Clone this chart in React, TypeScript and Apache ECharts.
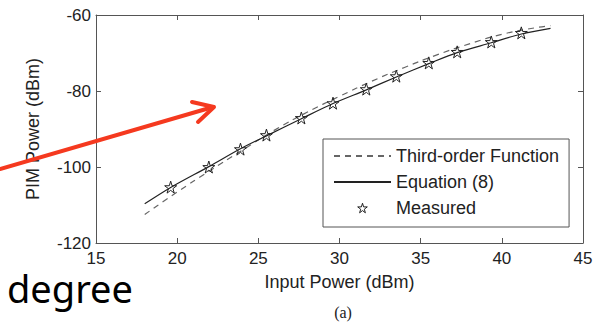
import React, { useEffect, useRef } from "react";
import * as echarts from "echarts";

const xTicks = [15, 20, 25, 30, 35, 40, 45];
const yTicks = [-120, -100, -80, -60];

const measuredX = [19.6, 21.95, 23.9, 25.5, 27.65, 29.6, 31.65, 33.5, 35.5, 37.25, 39.35, 41.2];
const measuredY = [-105.3, -100.0, -95.3, -91.6, -87.1, -83.2, -79.5, -76.1, -72.6, -69.7, -67.1, -64.7];

const equationX = [18, 19.6, 21.95, 23.9, 25.5, 27.65, 29.6, 31.65, 33.5, 35.5, 37.25, 39.35, 41.2, 43];
const equationY = [-109.7, -105.4, -99.9, -95.2, -91.8, -87.3, -83.3, -79.7, -76.3, -72.8, -69.9, -67.3, -65.0, -63.5];

const thirdX = [18, 20, 22, 24, 26, 28, 30, 32, 34, 36, 38, 40, 42, 43];
const thirdY = [-112.5, -106.6, -101.0, -95.6, -90.3, -85.6, -81.4, -77.4, -73.8, -70.5, -67.6, -65.1, -63.4, -62.8];

const seriesNames = ["Third-order Function", "Equation (8)", "Measured"];

const STAR = "path://M50,0 L61,35 L98,35 L68,57 L79,91 L50,70 L21,91 L32,57 L2,35 L39,35 Z";

const zip = (xs: number[], ys: number[]) => xs.map((x, i) => [x, ys[i]]);

export default function App() {
  const ref = useRef<HTMLDivElement>(null);
  useEffect(() => {
    if (!ref.current) return;
    const chart = echarts.init(ref.current, null, { renderer: "svg" });
    const axisColor = "#555";
    const font = "Liberation Sans";
    const hollowStar = { color: "rgba(255,255,255,0)", borderColor: "#222", borderWidth: 1 };
    const baseAxis = {
      type: "value" as const,
      axisLine: { show: true, onZero: false, lineStyle: { color: axisColor, width: 1 } },
      axisTick: { show: true, inside: true, length: 5, lineStyle: { color: axisColor } },
      splitLine: { show: false },
    };
    chart.setOption({
      animation: false,
      backgroundColor: "#fff",
      textStyle: { fontFamily: font },
      grid: { left: 96, right: 18, top: 15, bottom: 79, containLabel: false },
      xAxis: [
        {
          ...baseAxis,
          min: xTicks[0],
          max: xTicks[xTicks.length - 1],
          interval: 5,
          position: "bottom",
          name: "Input Power (dBm)",
          nameLocation: "middle",
          nameGap: 30,
          nameTextStyle: { fontSize: 18, color: "#222", fontFamily: font },
          axisLabel: { fontSize: 17, color: "#222", margin: 7, fontFamily: font },
        },
        {
          ...baseAxis,
          min: xTicks[0],
          max: xTicks[xTicks.length - 1],
          interval: 5,
          position: "top",
          axisLabel: { show: false },
        },
      ],
      yAxis: [
        {
          ...baseAxis,
          min: yTicks[0],
          max: yTicks[yTicks.length - 1],
          interval: 20,
          position: "left",
          name: "PIM Power (dBm)",
          nameLocation: "middle",
          nameGap: 54,
          nameTextStyle: { fontSize: 18, color: "#222", fontFamily: font },
          axisLabel: { fontSize: 17, color: "#222", margin: 5, fontFamily: font },
        },
        {
          ...baseAxis,
          min: yTicks[0],
          max: yTicks[yTicks.length - 1],
          interval: 20,
          position: "right",
          axisLabel: { show: false },
        },
      ],
      legend: {
        orient: "vertical",
        left: 323,
        top: 139,
        data: [
          { name: seriesNames[0], itemStyle: { opacity: 0 } },
          { name: seriesNames[1], itemStyle: { opacity: 0 } },
          { name: seriesNames[2], itemStyle: hollowStar },
        ],
        itemWidth: 57,
        itemHeight: 12,
        itemGap: 6,
        padding: [7, 10, 9, 10],
        borderColor: axisColor,
        borderWidth: 1,
        backgroundColor: "#fff",
        textStyle: { fontSize: 18, color: "#222", fontFamily: font, lineHeight: 20 },
      },
      series: [
        {
          name: seriesNames[0],
          type: "line",
          data: zip(thirdX, thirdY),
          symbol: "none",
          smooth: true,
          lineStyle: { color: "#666", width: 1.2, type: [6, 5] },
          itemStyle: { color: "#666" },
          z: 2,
        },
        {
          name: seriesNames[1],
          type: "line",
          data: zip(equationX, equationY),
          symbol: "none",
          smooth: 0.3,
          lineStyle: { color: "#222", width: 1.2 },
          itemStyle: { color: "#222" },
          z: 3,
        },
        {
          name: seriesNames[2],
          type: "line",
          data: zip(measuredX, measuredY),
          symbol: STAR,
          symbolSize: 12,
          showSymbol: true,
          lineStyle: { width: 0, opacity: 0 },
          itemStyle: hollowStar,
          z: 4,
        },
      ],
      graphic: [
        {
          type: "line",
          shape: { x1: 0, y1: 169, x2: 213, y2: 107 },
          style: { stroke: "#f5391f", lineWidth: 4, lineCap: "round" },
          z: 100,
        },
        {
          type: "polyline",
          shape: { points: [[192, 102], [214, 107], [198, 122]] },
          style: { stroke: "#f5391f", lineWidth: 4, lineCap: "round", lineJoin: "round", fill: "none" },
          z: 100,
        },
        {
          type: "text",
          x: 7,
          y: 288,
          style: { text: "degree", font: '38px "Noto Sans"', fill: "#000", verticalAlign: "middle" },
          z: 100,
        },
        {
          type: "text",
          x: 343,
          y: 312,
          style: { text: "(a)", font: '16px "Liberation Serif"', fill: "#222", align: "center", verticalAlign: "middle" },
          z: 100,
        },
      ],
    });
    return () => chart.dispose();
  }, []);
  return <div ref={ref} style={{ width: 601, height: 322, position: "absolute", left: 0, top: 0 }} />;
}
